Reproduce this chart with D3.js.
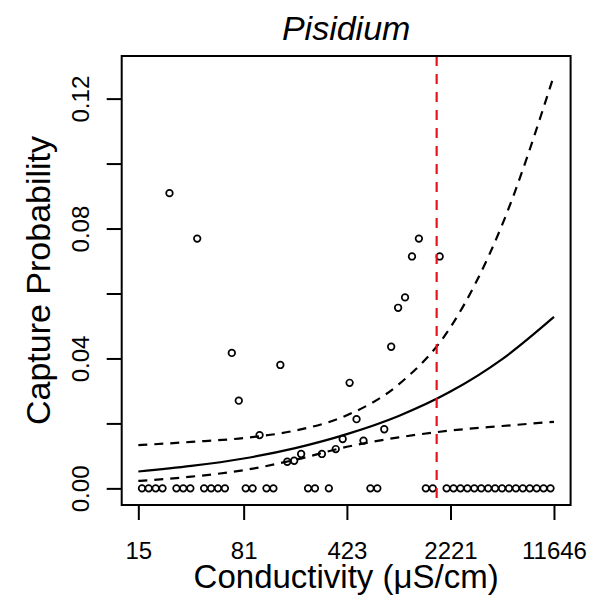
<!DOCTYPE html>
<html>
<head>
<meta charset="utf-8">
<script src="https://cdn.jsdelivr.net/npm/d3@7/dist/d3.min.js"></script>
<style>
  html, body { margin: 0; padding: 0; background: #fff; }
  svg { display: block; }
  text { font-family: "Liberation Sans", Arial, sans-serif; fill: #000; }
</style>
</head>
<body>
<script>
// ---- data ----
const title = "Pisidium";
const xLabel = "Conductivity (\u03bcS/cm)";
const yLabel = "Capture Probability";

// conductivity at the centre of each bin (µS/cm)
const conductivity = [15.9, 17.7, 19.8, 22.1, 24.7, 27.6, 30.8, 34.5, 38.5, 43.0,
  48.1, 53.7, 60.0, 67.0, 74.9, 83.7, 93.5, 104.5, 116.7, 130.4,
  145.7, 162.8, 181.9, 203.3, 227.1, 253.7, 283.5, 316.8, 353.9, 395.4,
  441.8, 493.6, 551.6, 616.3, 688.5, 769.3, 859.5, 960.4, 1073.0, 1198.9,
  1339.5, 1496.6, 1672.2, 1868.3, 2087.5, 2332.4, 2605.9, 2911.6, 3253.1, 3634.7,
  4061.1, 4537.4, 5069.7, 5664.4, 6328.8, 7071.1, 7900.6, 8827.3, 9862.7, 11019];
// observed capture proportion in each bin
const captured = [0, 0, 0, 0, 0.0909, 0, 0, 0, 0.0769, 0,
  0, 0, 0, 0.0417, 0.0270, 0, 0, 0.0164, 0, 0,
  0.0380, 0.0082, 0.0085, 0.0106, 0, 0, 0.0106, 0, 0.0121, 0.0152,
  0.0325, 0.0213, 0.0147, 0, 0, 0.0182, 0.0436, 0.0556, 0.0588, 0.0714,
  0.0769, 0, 0, 0.0714, 0, 0, 0, 0, 0, 0,
  0, 0, 0, 0, 0, 0, 0, 0, 0, 0];

// fitted curve and confidence band
const curveX = [15, 35, 81, 185, 423, 969, 2221, 5086, 11646];
const fitted = [0.0052, 0.0069, 0.0092, 0.0124, 0.0167, 0.0223, 0.0298, 0.0398, 0.0528];
const upperCI = [0.0133, 0.0143, 0.0155, 0.0178, 0.0225, 0.0320, 0.0496, 0.0812, 0.1272];
const lowerCI = [0.0023, 0.0036, 0.0056, 0.0088, 0.0128, 0.0157, 0.0178, 0.0192, 0.0205];

const threshold = 1780;

const xTicks = [15, 81, 423, 2221, 11646];
const yTicks = [0, 0.02, 0.04, 0.06, 0.08, 0.10, 0.12];
const yTickLabels = ["0.00", "", "0.04", "", "0.08", "", "0.12"];
const xDataRange = [15, 11646];
const yDataRange = [0, 0.128];

// ---- drawing ----
const W = 593, H = 604;
const plot = { left: 121.7, right: 570.6, top: 56, bottom: 505 };

const svg = d3.select("body").append("svg").attr("width", W).attr("height", H);

const lo = Math.log(xDataRange[0]), hi = Math.log(xDataRange[1]);
const padX = 0.04 * (hi - lo);
const x = d3.scaleLog()
  .domain([Math.exp(lo - padX), Math.exp(hi + padX)])
  .range([plot.left, plot.right]);
const padY = 0.04 * (yDataRange[1] - yDataRange[0]);
const y = d3.scaleLinear()
  .domain([yDataRange[0] - padY, yDataRange[1] + padY])
  .range([plot.bottom, plot.top]);

// axes (R style: ticks outside, axis line on the box)
const xAxis = d3.axisBottom(x).tickValues(xTicks).tickFormat(d3.format("d"))
  .tickSize(15).tickSizeOuter(0).tickPadding(22);
const gx = svg.append("g").attr("transform", `translate(0,${plot.bottom})`).call(xAxis);
gx.select(".domain").remove();
gx.selectAll(".tick line").attr("stroke", "#000").attr("stroke-width", 2);
gx.selectAll(".tick text").attr("font-size", 24).attr("fill", "#000")
  .attr("font-family", "Liberation Sans, Arial, sans-serif");

const yAxis = d3.axisLeft(y).tickValues(yTicks).tickSize(15).tickSizeOuter(0)
  .tickFormat((d, i) => yTickLabels[i]);
const gy = svg.append("g").attr("transform", `translate(${plot.left},0)`).call(yAxis);
gy.select(".domain").remove();
gy.selectAll(".tick line").attr("stroke", "#000").attr("stroke-width", 2);
gy.selectAll(".tick text")
  .attr("font-size", 24).attr("fill", "#000")
  .attr("font-family", "Liberation Sans, Arial, sans-serif")
  .attr("x", null).attr("dy", null)
  .attr("text-anchor", "middle")
  .attr("transform", `translate(${88.5 - plot.left},0) rotate(-90)`);

// points
svg.append("g").selectAll("circle")
  .data(conductivity.map((c, i) => ({ c, p: captured[i] })))
  .join("circle")
  .attr("cx", d => x(d.c)).attr("cy", d => y(d.p)).attr("r", 3.3)
  .attr("fill", "none").attr("stroke", "#000").attr("stroke-width", 1.7);

// curves
const line = (vals) => d3.line().x((d, i) => x(curveX[i])).y(d => y(d)).curve(d3.curveMonotoneX)(vals);
svg.append("path").attr("d", line(fitted)).attr("fill", "none")
  .attr("stroke", "#000").attr("stroke-width", 2.2);
[upperCI, lowerCI].forEach(v => {
  svg.append("path").attr("d", line(v)).attr("fill", "none")
    .attr("stroke", "#000").attr("stroke-width", 2.2).attr("stroke-dasharray", "9,7");
});

// threshold line
svg.append("line")
  .attr("x1", x(threshold)).attr("x2", x(threshold))
  .attr("y1", plot.top).attr("y2", plot.bottom)
  .attr("stroke", "#e8141c").attr("stroke-width", 2.2).attr("stroke-dasharray", "10,8");

// box
svg.append("rect")
  .attr("x", plot.left).attr("y", plot.top)
  .attr("width", plot.right - plot.left).attr("height", plot.bottom - plot.top)
  .attr("fill", "none").attr("stroke", "#000").attr("stroke-width", 2);

// title and labels
svg.append("text").attr("x", (plot.left + plot.right) / 2).attr("y", 40)
  .attr("text-anchor", "middle").attr("font-size", 34).attr("font-style", "italic")
  .text(title);
svg.append("text").attr("x", (plot.left + plot.right) / 2).attr("y", 588)
  .attr("text-anchor", "middle").attr("font-size", 33).text(xLabel);
svg.append("text")
  .attr("transform", `translate(50,${(plot.top + plot.bottom) / 2}) rotate(-90)`)
  .attr("text-anchor", "middle").attr("font-size", 34).text(yLabel);
</script>
</body>
</html>
